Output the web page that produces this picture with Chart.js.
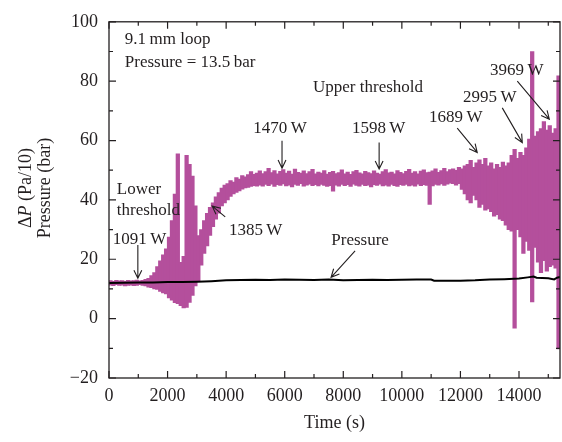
<!DOCTYPE html>
<html>
<head>
<meta charset="utf-8">
<script src="https://cdn.jsdelivr.net/npm/chart.js@4.4.1/dist/chart.umd.min.js"></script>
<style>
  html, body { margin: 0; padding: 0; background: #fff; }
</style>
</head>
<body>
<canvas id="chart1" width="562" height="442"></canvas>
<script>
// Dados lidos da figura
// bins de 100 s (centro do bin), envelope min/max do sinal ΔP
const tBin = [];
for (let i = 0; i < 154; i++) tBin.push(i * 100 + 50);

const hiEnv = [
  12.8, 12.6, 12.9, 12.7, 12.8, 12.6, 12.9, 12.7, 12.8, 13.0,
  12.7, 12.9, 13.2, 13.6, 14.5, 15.5, 17.5, 19.5, 21.5, 23.5,
  27.5, 33, 42, 55.5, 19, 21, 55, 52, 48, 38,
  28, 30, 33, 35.5, 37.5, 39, 41, 42.5, 44, 45,
  45.5, 46.5, 46, 47.5, 47, 48.2, 47.8, 48.5, 49.5, 48.6,
  49, 49.8, 48.9, 49.5, 50.6, 49.2, 49.9, 48.8, 49.6, 50.2,
  49.0, 49.7, 48.7, 50.4, 49.3, 49.0, 49.8, 48.9, 49.5, 50.3,
  48.8, 49.4, 49.0, 49.9, 48.7, 49.3, 49.6, 48.9, 49.2, 50.1,
  48.8, 49.4, 48.6, 49.5, 50.0, 49.1, 48.8, 49.6, 49.2, 48.9,
  49.8, 49.0, 48.7, 49.5, 50.2, 49.1, 49.4, 48.8, 49.9, 49.3,
  48.9, 49.6, 50.3, 49.0, 49.5, 48.8, 49.7, 50.1, 49.2, 49.4,
  49.8, 50.5, 49.3, 49.9, 50.6, 49.5, 50.2, 50.5, 50.0, 51.0,
  50.5, 51.5, 52.0, 53.3, 51.0, 52.5, 53.5, 52.0, 54.0, 51.5,
  52.5, 50.5, 52.0, 51.0, 52.7, 51.5, 52.5, 55.0, 57.0, 54.0,
  56.0, 55.0, 57.5, 60.5, 90.0, 61.5, 63.0, 64.0, 66.4, 63.5,
  65.0, 62.5, 64.0, 81.8
];
const loEnv = [
  11.3, 11.1, 11.4, 11.2, 11.3, 11.0, 11.2, 11.3, 11.1, 11.2,
  11.4, 11.2, 11.0, 10.6, 10.4, 10.0, 9.8, 9.2, 8.7, 8.3,
  7.0, 6.2, 5.4, 5.0, 4.4, 3.6, 3.8, 5.5, 7.8, 11.0,
  12.5, 18, 22, 24.5, 28, 31, 33.5, 35.5, 38, 39,
  40, 41.2, 42, 42.5, 43, 43.6, 44, 44.2, 44.5, 44.8,
  44.6, 45.0, 44.6, 45.2, 44.8, 45.3, 44.5, 45.1, 44.9, 45.4,
  44.7, 45.0, 44.4, 45.2, 44.9, 45.5, 44.6, 45.0, 45.3, 44.8,
  45.1, 44.7, 45.2, 44.9, 44.5, 44.8, 42.9, 45.0, 44.6, 45.2,
  44.8, 45.1, 44.5, 45.3, 44.9, 44.6, 45.2, 44.8, 45.0, 44.4,
  45.1, 44.9, 45.3, 44.7, 45.0, 44.6, 45.2, 44.8, 44.5, 45.1,
  44.9, 45.2, 44.7, 45.0, 44.6, 45.3, 44.8, 45.1, 44.9, 38.5,
  44.7, 45.2, 45.0, 45.4, 44.9, 45.3, 45.6, 45.5, 45.0, 45.5,
  43.5, 42.0, 40.0, 39.0, 41.5, 40.0, 37.5, 38.5, 36.5, 37.0,
  36.0, 34.5, 35.0, 33.5, 33.0, 31.5, 30.0, 29.5, -3.2, 30.0,
  27.5, 22.0, 26.0, 23.0, 5.6, 24.0, 19.0, 15.5, 19.5, 16.0,
  17.5, 18.0, 17.0, -10.2
];

// pressão (bar)
const tPress = [0, 500, 1000, 1500, 2000, 2500, 3000, 3500, 4000, 4500, 5000, 5500, 6000, 6500,
  7000, 7500, 8000, 8500, 9000, 9500, 10000, 10500, 11000, 11100, 11500, 12000, 12500, 13000,
  13500, 14000, 14300, 14500, 14600, 15000, 15200, 15300, 15400];
const pressure = [12.0, 12.1, 12.2, 12.2, 12.3, 12.3, 12.4, 12.6, 12.9, 13.0, 13.1, 13.0, 13.2, 13.1,
  13.0, 13.2, 12.9, 13.0, 13.1, 13.0, 13.1, 13.2, 13.2, 12.8, 12.8, 12.8, 12.9, 13.2,
  13.3, 13.5, 13.9, 14.2, 13.8, 13.6, 13.2, 13.8, 14.0];

const xTicks = [0, 2000, 4000, 6000, 8000, 10000, 12000, 14000];
const yTicks = [-20, 0, 20, 40, 60, 80, 100];

// anotações: texto, tempo, valor, alinhamento
const notes = [
  ['9.1\u2009mm loop', 540, 94.1, 'left'],
  ['Pressure = 13.5\u2009bar', 540, 86.2, 'left'],
  ['Upper threshold', 6967, 78.0, 'left'],
  ['1470\u2009W', 5840, 63.9, 'center'],
  ['1598\u2009W', 9207, 64.2, 'center'],
  ['1689\u2009W', 11839, 67.8, 'center'],
  ['2995\u2009W', 13002, 74.4, 'center'],
  ['3969\u2009W', 13925, 83.6, 'center'],
  ['Lower', 267, 43.5, 'left'],
  ['threshold', 267, 36.3, 'left'],
  ['1091\u2009W', 130, 26.7, 'left'],
  ['1385\u2009W', 4096, 29.7, 'left'],
  ['Pressure', 8574, 26.4, 'center']
];
// setas: t1, v1 -> t2, v2 (ponta)
const arrows = [
  [5908, 59.9, 5908, 50.7],
  [9224, 59.3, 9224, 50.4],
  [11891, 64.2, 12574, 56.0],
  [13429, 71.0, 14113, 59.3],
  [13942, 80.0, 15036, 67.2],
  [985, 24.8, 985, 13.6],
  [3969, 34.3, 3524, 37.9],
  [8403, 22.8, 7583, 13.9]
];

const SERIF = "'Liberation Serif', 'DejaVu Serif', serif";
Chart.defaults.font.family = SERIF;
Chart.defaults.color = '#231f20';

// moldura, ticks internos, anotações e título do eixo y
const framePlugin = {
  id: 'frame',
  afterDraw(chart) {
    const ctx = chart.ctx;
    const xs = chart.scales.x, ys = chart.scales.y;
    const a = chart.chartArea;
    const X = t => xs.getPixelForValue(t);
    const Y = v => ys.getPixelForValue(v);
    ctx.save();
    ctx.strokeStyle = '#231f20';
    ctx.lineWidth = 1.3;
    ctx.strokeRect(a.left, a.top, a.right - a.left, a.bottom - a.top);

    ctx.lineWidth = 1.2;
    ctx.beginPath();
    for (let t = 0; t <= xs.max; t += 1000) {
      const px = X(t);
      const len = t % 2000 === 0 ? 7 : 4;
      ctx.moveTo(px, a.bottom); ctx.lineTo(px, a.bottom - len);
      ctx.moveTo(px, a.top); ctx.lineTo(px, a.top + len);
    }
    for (let v = -20; v <= 100; v += 10) {
      const py = Y(v);
      const len = v % 20 === 0 ? 7 : 4;
      ctx.moveTo(a.left, py); ctx.lineTo(a.left + len, py);
      ctx.moveTo(a.right, py); ctx.lineTo(a.right - len, py);
    }
    ctx.stroke();

    // anotações
    ctx.fillStyle = '#231f20';
    ctx.font = '17px ' + SERIF;
    ctx.textBaseline = 'middle';
    notes.forEach(n => {
      ctx.textAlign = n[3];
      ctx.fillText(n[0], X(n[1]), Y(n[2]));
    });

    ctx.lineWidth = 1.1;
    arrows.forEach(r => {
      const x1 = X(r[0]), y1 = Y(r[1]), x2 = X(r[2]), y2 = Y(r[3]);
      const ang = Math.atan2(y2 - y1, x2 - x1);
      const h = 9, w = 0.45;
      ctx.beginPath();
      ctx.moveTo(x1, y1); ctx.lineTo(x2, y2);
      ctx.moveTo(x2 - h * Math.cos(ang - w), y2 - h * Math.sin(ang - w));
      ctx.lineTo(x2, y2);
      ctx.lineTo(x2 - h * Math.cos(ang + w), y2 - h * Math.sin(ang + w));
      ctx.stroke();
    });

    // título do eixo y (duas linhas, P em itálico)
    const cy = Y(44);
    ctx.translate(26, cy);
    ctx.rotate(-Math.PI / 2);
    ctx.textAlign = 'left';
    const fN = '18px ' + SERIF, fI = 'italic 18px ' + SERIF;
    const parts = [['\u0394', fN], ['P', fI], [' (Pa/10)', fN]];
    let tot = 0;
    parts.forEach(p => { ctx.font = p[1]; tot += ctx.measureText(p[0]).width; });
    let x0 = -tot / 2;
    parts.forEach(p => { ctx.font = p[1]; ctx.fillText(p[0], x0, 0); x0 += ctx.measureText(p[0]).width; });
    ctx.font = fN;
    ctx.textAlign = 'center';
    ctx.fillText('Pressure (bar)', 0, 19);
    ctx.restore();
  }
};

const data = {
  datasets: [
    {
      type: 'line',
      label: 'Pressure',
      data: tPress.map((t, i) => ({ x: t, y: pressure[i] })),
      borderColor: '#000',
      borderWidth: 2,
      pointRadius: 0,
      tension: 0
    },
    {
      type: 'bar',
      label: 'dP',
      data: tBin.map((t, i) => ({ x: t, y: [loEnv[i], hiEnv[i]] })),
      backgroundColor: '#b44f9c',
      borderWidth: 0,
      barThickness: 3.6,
      grouped: false
    }
  ]
};

const config = {
  data: data,
  options: {
    responsive: false,
    animation: false,
    layout: { padding: { left: 0, top: 12, right: 2, bottom: 0 } },
    plugins: { legend: { display: false }, tooltip: { enabled: false } },
    scales: {
      x: {
        type: 'linear',
        offset: false,
        min: 0,
        max: 15400,
        grid: { display: false, drawTicks: false },
        border: { display: false },
        afterBuildTicks: s => { s.ticks = xTicks.map(v => ({ value: v })); },
        afterFit: s => { s.height = 64; },
        ticks: {
          font: { size: 18 },
          padding: 7,
          maxRotation: 0,
          callback: v => String(v)
        },
        title: {
          display: true,
          text: 'Time (s)',
          font: { size: 18 },
          padding: { top: 0, bottom: 8 }
        }
      },
      y: {
        min: -20,
        max: 100,
        grid: { display: false, drawTicks: false },
        border: { display: false },
        afterBuildTicks: s => { s.ticks = yTicks.map(v => ({ value: v })); },
        afterFit: s => { s.width = 109; },
        ticks: {
          font: { size: 18 },
          padding: 11,
          callback: v => v < 0 ? '\u2212' + Math.abs(v) : String(v)
        }
      }
    }
  },
  plugins: [framePlugin]
};

const myChart = new Chart(document.getElementById('chart1'), config);
</script>
</body>
</html>
